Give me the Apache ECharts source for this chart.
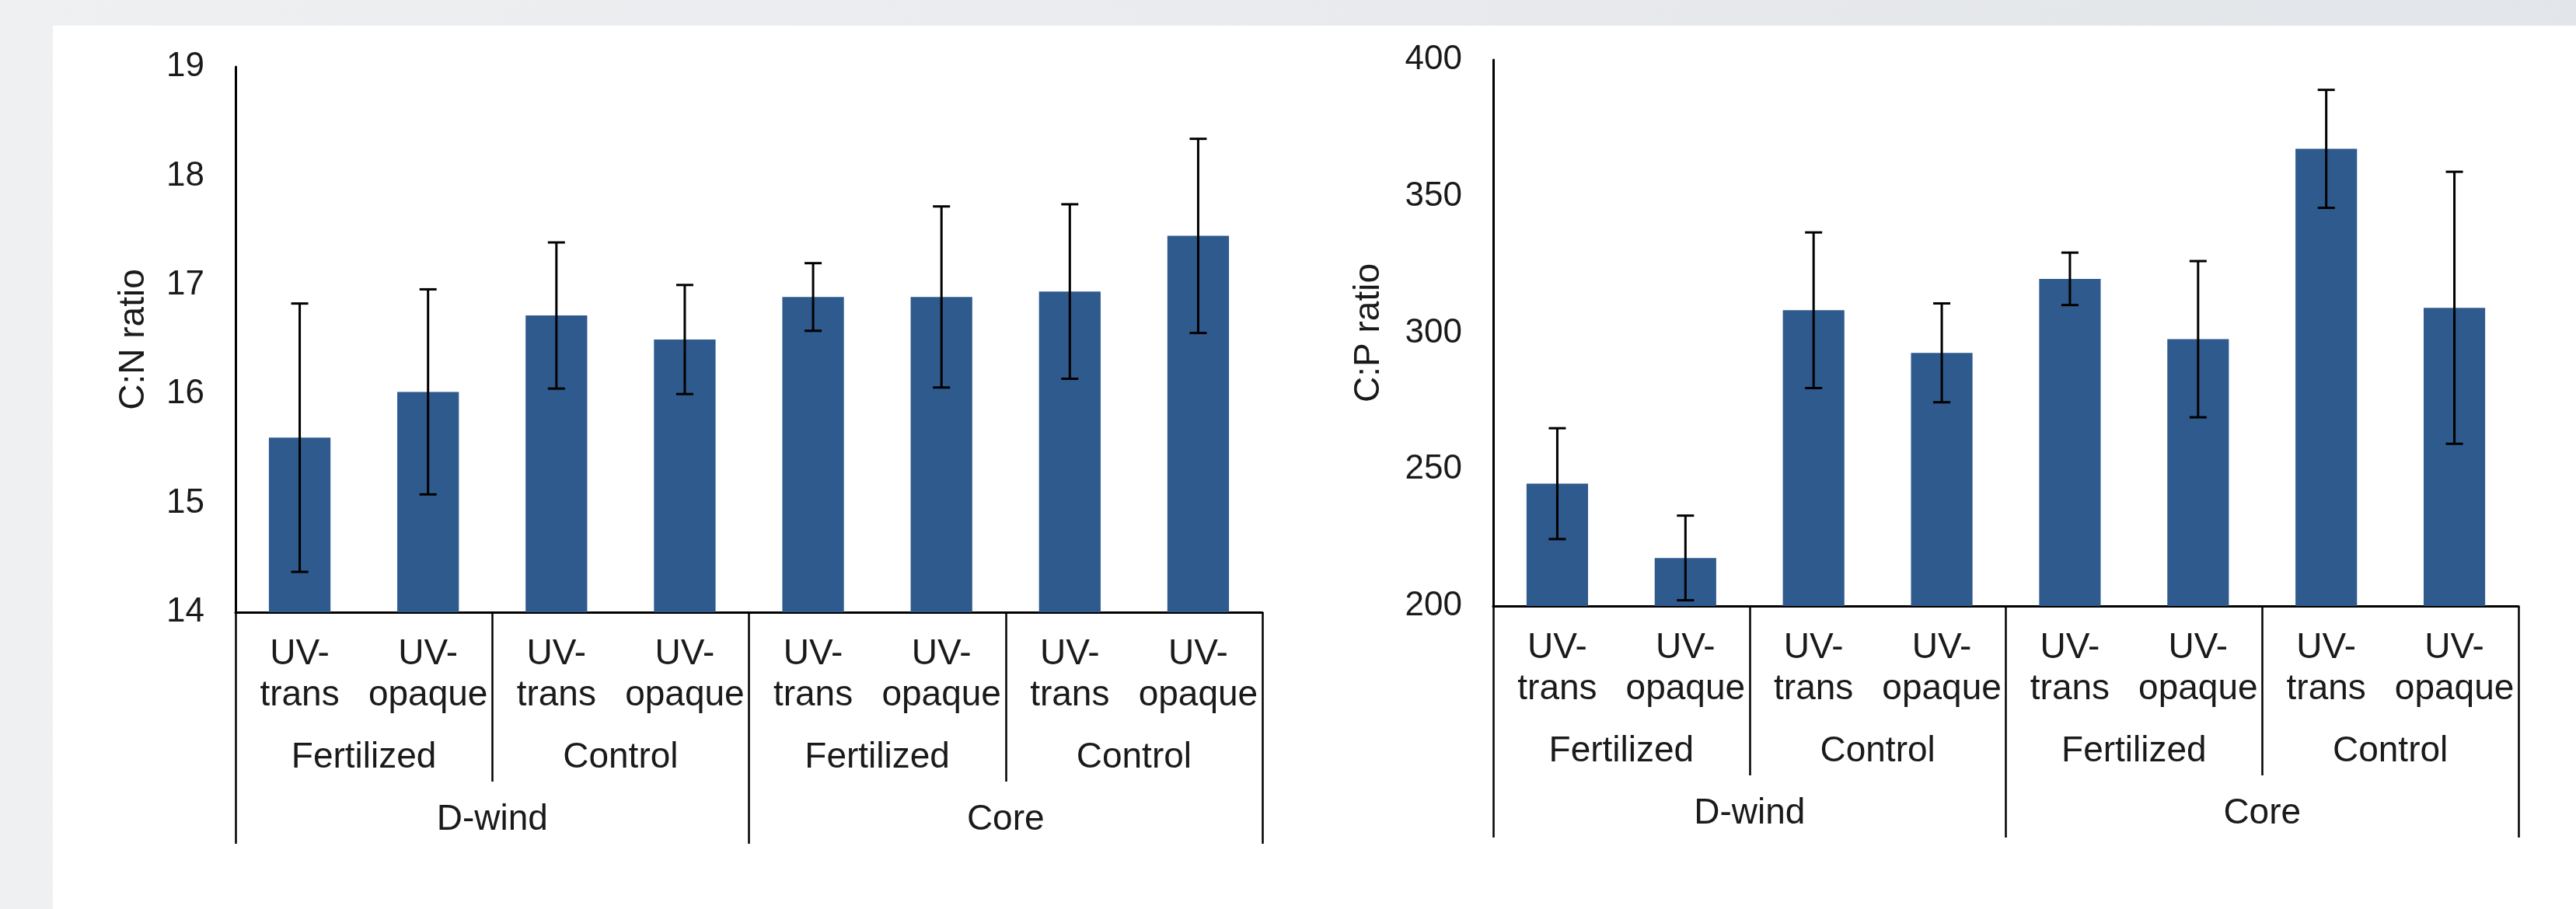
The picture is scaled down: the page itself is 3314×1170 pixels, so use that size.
<!DOCTYPE html>
<html>
<head>
<meta charset="utf-8">
<script src="https://cdn.jsdelivr.net/npm/echarts@6/dist/echarts.min.js"></script>
<style>
  html, body { margin: 0; padding: 0; width: 3314px; height: 1170px; overflow: hidden;
    background: linear-gradient(to right, #eff0f2, #e2e5e9); }
  #panel { position: absolute; left: 68px; top: 33px; right: 0; bottom: 0; background: #ffffff; }
  #chart { position: absolute; left: 0; top: 0; width: 3314px; height: 1170px; }
</style>
</head>
<body>
<div id="panel"></div>
<div id="chart"></div>
<script>
// ---- data ----
const categories = ['UV-\ntrans', 'UV-\nopaque', 'UV-\ntrans', 'UV-\nopaque',
                    'UV-\ntrans', 'UV-\nopaque', 'UV-\ntrans', 'UV-\nopaque'];
const level2Labels = ['Fertilized', 'Control', 'Fertilized', 'Control'];
const level3Labels = ['D-wind', 'Core'];

const cnMeans  = [15.60, 16.02, 16.72, 16.50, 16.89, 16.89, 16.94, 17.45];
const cnErrors = [1.23, 0.94, 0.67, 0.50, 0.31, 0.83, 0.80, 0.89];

const cpMeans  = [244.8, 217.6, 308.3, 292.7, 319.8, 297.7, 367.4, 309.2];
const cpErrors = [20.3, 15.5, 28.5, 18.1, 9.6, 28.6, 21.6, 49.8];

const cnAxis = { name: 'C:N ratio', min: 14, max: 19, interval: 1 };
const cpAxis = { name: 'C:P ratio', min: 200, max: 400, interval: 50 };

// ---- style ----
const FONT = '"Liberation Sans", Arial, sans-serif';
const TXT = '#1a1a1a';
const FS = 44;
const CFS = 46;
const BAR = '#2e5a8e';

function xAxes(grid) {
  return [
    { type: 'category', gridIndex: grid, data: categories, position: 'bottom',
      axisLine: { show: true, lineStyle: { color: '#000', width: 3 } },
      axisTick: { show: false },
      axisLabel: { interval: 0, margin: 28, fontSize: CFS, lineHeight: 53, color: TXT, fontFamily: FONT } },
    { type: 'category', gridIndex: grid, data: level2Labels, position: 'bottom',
      axisLine: { show: false },
      axisTick: { show: true, interval: 0, length: 218, lineStyle: { color: '#000', width: 2.5 } },
      axisLabel: { interval: 0, margin: 161, fontSize: CFS, lineHeight: 53, color: TXT, fontFamily: FONT } },
    { type: 'category', gridIndex: grid, data: level3Labels, position: 'bottom',
      axisLine: { show: false },
      axisTick: { show: true, interval: 0, length: 298, lineStyle: { color: '#000', width: 2.5 } },
      axisLabel: { interval: 0, margin: 241, fontSize: CFS, lineHeight: 53, color: TXT, fontFamily: FONT } }
  ];
}

function yAxis(grid, ax, gap) {
  return { type: 'value', gridIndex: grid, min: ax.min, max: ax.max, interval: ax.interval,
    name: ax.name, nameLocation: 'middle', nameGap: gap,
    nameTextStyle: { fontSize: 46, lineHeight: 50, color: TXT, fontFamily: FONT },
    axisLine: { show: true, lineStyle: { color: '#000', width: 3 } },
    axisTick: { show: false }, splitLine: { show: false },
    axisLabel: { margin: 40, fontSize: FS, color: TXT, fontFamily: FONT } };
}

function errorSeries(xi, yi, means, errs) {
  return { type: 'custom', xAxisIndex: xi, yAxisIndex: yi, z: 5,
    data: means.map((m, i) => [i, m - errs[i], m + errs[i]]),
    encode: { x: 0, y: [1, 2] },
    renderItem: function (params, api) {
      const i = api.value(0);
      const lo = api.coord([i, api.value(1)]);
      const hi = api.coord([i, api.value(2)]);
      const h = 11;
      const st = { stroke: '#000', lineWidth: 3 };
      return { type: 'group', children: [
        { type: 'line', shape: { x1: hi[0], y1: hi[1], x2: lo[0], y2: lo[1] }, style: st },
        { type: 'line', shape: { x1: hi[0] - h, y1: hi[1], x2: hi[0] + h, y2: hi[1] }, style: st },
        { type: 'line', shape: { x1: lo[0] - h, y1: lo[1], x2: lo[0] + h, y2: lo[1] }, style: st }
      ] };
    } };
}

const chart = echarts.init(document.getElementById('chart'), null, { renderer: 'canvas' });
chart.setOption({
  backgroundColor: 'transparent',
  animation: false,
  grid: [
    { left: 303, right: 1690, top: 86, bottom: 382 },
    { left: 1921, right: 74, top: 77, bottom: 390 }
  ],
  xAxis: xAxes(0).concat(xAxes(1)),
  yAxis: [ yAxis(0, cnAxis, 106), yAxis(1, cpAxis, 135) ],
  series: [
    { type: 'bar', xAxisIndex: 0, yAxisIndex: 0, data: cnMeans, barWidth: '48%',
      itemStyle: { color: BAR } },
    errorSeries(0, 0, cnMeans, cnErrors),
    { type: 'bar', xAxisIndex: 3, yAxisIndex: 1, data: cpMeans, barWidth: '48%',
      itemStyle: { color: BAR } },
    errorSeries(3, 1, cpMeans, cpErrors)
  ]
});
</script>
</body>
</html>
